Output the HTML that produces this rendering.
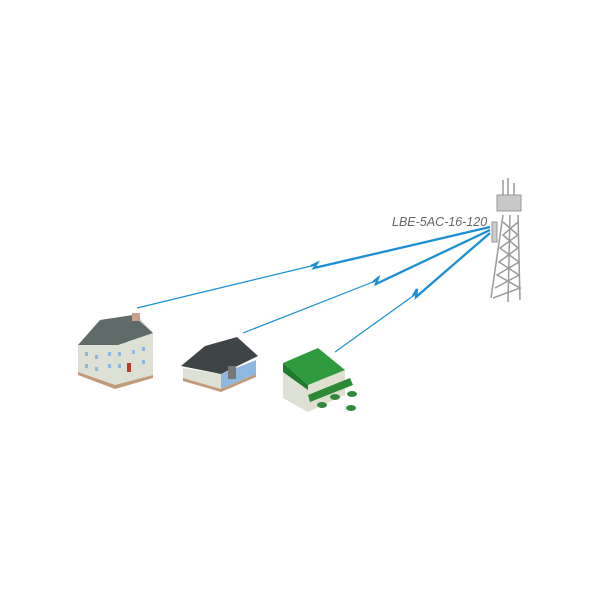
<!DOCTYPE html>
<html><head><meta charset="utf-8"><style>html,body{margin:0;padding:0;background:#fff}svg{display:block}</style></head><body>
<svg width="600" height="600" viewBox="0 0 600 600" xmlns="http://www.w3.org/2000/svg">
<g fill="none" stroke="#1b8fd2" stroke-linejoin="miter">
<polyline points="137,308 311,266" stroke-width="1.2"/>
<polyline points="311,266 317,263 314,268 490,227" stroke-width="2.3"/>
<polyline points="243,333 373,282" stroke-width="1.2"/>
<polyline points="373,282 378,278 376,284 490,230" stroke-width="2.3"/>
<polyline points="335,352 413,296" stroke-width="1.2"/>
<polyline points="413,296 417,289 416,297 490,233" stroke-width="2.3"/>
</g>
<text x="392" y="226" font-family="Liberation Sans, sans-serif" font-style="italic" font-size="12.5" fill="#666">LBE-5AC-16-120</text>
<!-- tower -->
<g stroke="#9a9a9a" stroke-width="1.5" fill="none">
<line x1="503" y1="180" x2="503" y2="198"/><line x1="508" y1="178" x2="508" y2="196"/><line x1="514" y1="183" x2="514" y2="198"/>
<line x1="503" y1="215" x2="491" y2="298"/><line x1="518" y1="215" x2="520" y2="300"/><line x1="510" y1="215" x2="508" y2="302"/>
<polyline points="503,222 518,235 500,248 519,262 497,275 520,288 493,298"/>
<polyline points="518,222 503,235 518,248 499,262 519,275 495,288"/>
</g>
<rect x="497" y="195" width="24" height="16" fill="#c8c8c8" stroke="#999"/>
<rect x="492" y="222" width="5" height="20" fill="#ccc" stroke="#999"/>
<!-- house 1 -->
<polygon points="78,345 100,322 140,318 153,333 153,375 115,385 78,372" fill="#dde0d4"/>
<polygon points="78,345 100,320 133,315 153,333 118,345" fill="#5f6b68"/>
<polygon points="78,372 115,385 153,375 153,378 115,389 78,375" fill="#c29a78"/>
<rect x="132" y="313" width="8" height="8" fill="#c9a08a"/>
<rect x="127" y="363" width="4" height="9" fill="#b73a2a"/>
<g fill="#8fb8e0">
<rect x="85" y="352" width="3" height="4"/><rect x="95" y="355" width="3" height="4"/><rect x="85" y="364" width="3" height="4"/><rect x="95" y="367" width="3" height="4"/>
<rect x="108" y="352" width="3" height="4"/><rect x="118" y="352" width="3" height="4"/><rect x="132" y="350" width="3" height="4"/><rect x="142" y="347" width="3" height="4"/>
<rect x="108" y="364" width="3" height="4"/><rect x="118" y="364" width="3" height="4"/><rect x="142" y="360" width="3" height="4"/>
</g>
<!-- house 2 -->
<polygon points="183,368 183,378 221,389 221,374" fill="#dde0d4"/>
<polygon points="221,374 256,360 256,374 221,389" fill="#8fb8e0"/>
<polygon points="181,366 205,346 237,337 258,356 221,374" fill="#3f4446"/>
<polygon points="183,378 221,389 256,374 256,377 221,392 183,381" fill="#c29a78"/>
<rect x="228" y="366" width="8" height="13" fill="#777"/>
<!-- house 3 -->
<polygon points="283,372 283,398 308,412 308,385" fill="#dde0d4"/>
<polygon points="308,385 345,370 345,395 308,412" fill="#dfe0d0"/>
<polygon points="283,363 318,348 345,370 308,385" fill="#2f9a3e"/>
<polygon points="283,363 308,385 308,390 283,372" fill="#1f7a2e"/>
<polygon points="308,395 350,378 353,385 310,402" fill="#2a8a36"/>
<g fill="#2f8a3e"><ellipse cx="322" cy="405" rx="5" ry="3"/><ellipse cx="335" cy="397" rx="5" ry="3"/><ellipse cx="352" cy="394" rx="5" ry="3"/><ellipse cx="351" cy="408" rx="5" ry="3"/></g>
</svg>
</body></html>
